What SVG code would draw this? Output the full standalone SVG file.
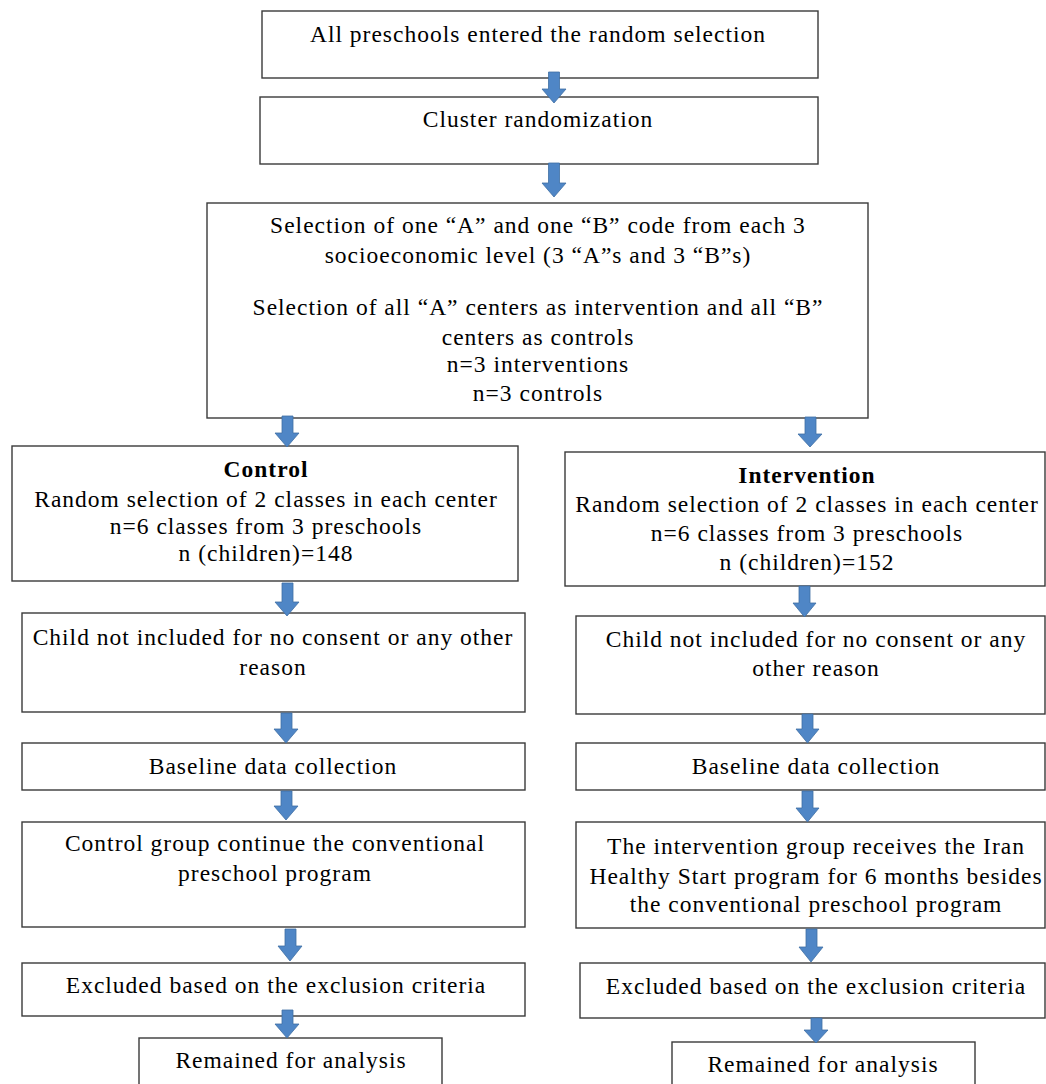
<svg xmlns="http://www.w3.org/2000/svg" width="1046" height="1084" viewBox="0 0 1046 1084">
<style>
.box{fill:#fff;stroke:#3a3a3a;stroke-width:1.4}
.arr{fill:#4f86c6;stroke:#3f6fa3;stroke-width:0.8}
text{font-family:"Liberation Serif","Times New Roman",serif;font-size:23.5px;letter-spacing:1px;fill:#000;text-anchor:middle}
.b{font-weight:bold}
</style>
<rect width="1046" height="1084" fill="#fff"/>
<g id="n1"><rect class="box" x="262" y="11" width="556" height="67"/><text x="538" y="42">All preschools entered the random selection</text></g>
<g id="n2"><rect class="box" x="260" y="97" width="558" height="67"/><text x="538" y="127">Cluster randomization</text></g>
<g id="n3"><rect class="box" x="207" y="203" width="661" height="215"/>
<text x="538" y="233">Selection of one “A” and one “B” code from each 3</text>
<text x="538" y="263">socioeconomic level (3 “A”s and 3 “B”s)</text>
<text x="538" y="315">Selection of all “A” centers as intervention and all “B”</text>
<text x="538" y="345">centers as controls</text>
<text x="538" y="372">n=3 interventions</text>
<text x="538" y="401">n=3 controls</text></g>
<g id="n4"><rect class="box" x="12" y="446" width="506" height="135"/>
<text class="b" x="266" y="477">Control</text>
<text x="266" y="507">Random selection of 2 classes in each center</text>
<text x="266" y="534">n=6 classes from 3 preschools</text>
<text x="266" y="561">n (children)=148</text></g>
<g id="n5"><rect class="box" x="565" y="452" width="480" height="134"/>
<text class="b" x="807" y="483">Intervention</text>
<text x="807" y="512">Random selection of 2 classes in each center</text>
<text x="807" y="541">n=6 classes from 3 preschools</text>
<text x="807" y="570">n (children)=152</text></g>
<g id="n6"><rect class="box" x="22" y="613" width="503" height="99"/>
<text x="273" y="645">Child not included for no consent or any other</text>
<text x="273" y="675">reason</text></g>
<g id="n7"><rect class="box" x="576" y="616" width="469" height="98"/>
<text x="816" y="647">Child not included for no consent or any</text>
<text x="816" y="676">other reason</text></g>
<g id="n8"><rect class="box" x="22" y="743" width="503" height="47"/><text x="273" y="774">Baseline data collection</text></g>
<g id="n9"><rect class="box" x="576" y="743" width="469" height="47"/><text x="816" y="774">Baseline data collection</text></g>
<g id="n10"><rect class="box" x="22" y="822" width="503" height="105"/>
<text x="275" y="851">Control group continue the conventional</text>
<text x="275" y="881">preschool program</text></g>
<g id="n11"><rect class="box" x="576" y="822" width="469" height="106"/>
<text x="816" y="854">The intervention group receives the Iran</text>
<text x="816" y="884">Healthy Start program for 6 months besides</text>
<text x="816" y="912">the conventional preschool program</text></g>
<g id="n12"><rect class="box" x="22" y="963" width="503" height="53"/><text x="276" y="993">Excluded based on the exclusion criteria</text></g>
<g id="n13"><rect class="box" x="580" y="963" width="465" height="55"/><text x="816" y="994">Excluded based on the exclusion criteria</text></g>
<g id="n14"><rect class="box" x="139" y="1038" width="303" height="60"/><text x="291" y="1068">Remained for analysis</text></g>
<g id="n15"><rect class="box" x="672" y="1042" width="303" height="60"/><text x="823" y="1072">Remained for analysis</text></g>
<g id="connectors">
<path class="arr" d="M548.5,72H559.5V89H566L554,103L542,89H548.5Z"/>
<path class="arr" d="M548.5,163H559.5V183H566L554,197L542,183H548.5Z"/>
<path class="arr" d="M282,416H293V433H299L287,447L275,433H282Z"/>
<path class="arr" d="M805,417H816V434H822L810,447L798,434H805Z"/>
<path class="arr" d="M282,583H293V602H299L287,616L275,602H282Z"/>
<path class="arr" d="M799,586H810V603H816L804.5,617L793,603H799Z"/>
<path class="arr" d="M281,713H292V729H298L286,743L274,729H281Z"/>
<path class="arr" d="M802,714H813V729H819L807.5,743L796,729H802Z"/>
<path class="arr" d="M281,791H292V806H298L286,820L274,806H281Z"/>
<path class="arr" d="M802,791H813V808H819L807.5,822L796,808H802Z"/>
<path class="arr" d="M285,929H296V946H302L290,961L278,946H285Z"/>
<path class="arr" d="M806,929H817V947H823L811,962L799,947H806Z"/>
<path class="arr" d="M282,1010H293V1024H299L287,1038L275,1024H282Z"/>
<path class="arr" d="M811,1018H822V1030H828L816,1043L804,1030H811Z"/>
</g>
</svg>
